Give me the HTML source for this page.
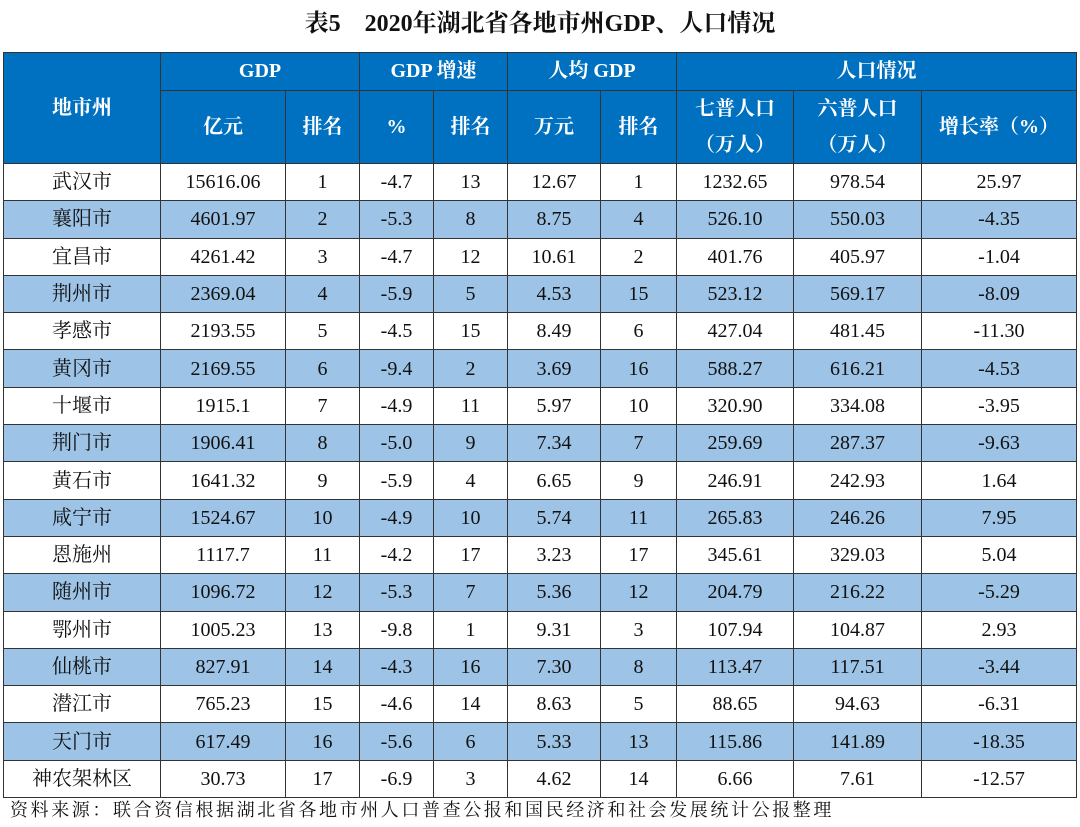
<!DOCTYPE html>
<html><head><meta charset="utf-8"><style>
html,body{margin:0;padding:0;background:#fff;width:1080px;height:827px;overflow:hidden}
.t{position:absolute;left:0;top:3px;width:1080px;text-align:center;font:bold 24px "Liberation Serif","Noto Serif CJK SC",serif;color:#111}
table{position:absolute;left:3px;top:52px;border-collapse:collapse;table-layout:fixed;font-family:"Liberation Serif","Noto Serif CJK SC",serif;font-size:20px;color:#111}
td{border:1.5px solid #333;text-align:center;padding:0;height:36.3px;line-height:20px}
.h td{background:#0070c0;color:#fff;font-weight:bold;border-color:#333}
tr.a td{background:#9dc3e6}
.f{position:absolute;left:10px;top:796px;font:18px "Noto Serif CJK SC",serif;color:#111;letter-spacing:2.6px;white-space:nowrap}
</style></head><body>
<div class="t">表5　2020年湖北省各地市州GDP、人口情况</div>
<table>
<colgroup><col style="width:157px"><col style="width:125px"><col style="width:74px"><col style="width:74px"><col style="width:74px"><col style="width:93px"><col style="width:76px"><col style="width:117px"><col style="width:128px"><col style="width:155px"></colgroup>
<tr class="h"><td rowspan="2" style="height:110px">地市州</td><td colspan="2" style="height:36px">GDP</td><td colspan="2">GDP 增速</td><td colspan="2">人均 GDP</td><td colspan="3">人口情况</td></tr>
<tr class="h"><td style="height:72px">亿元</td><td>排名</td><td>%</td><td>排名</td><td>万元</td><td>排名</td><td style="line-height:36px">七普人口<br>（万人）</td><td style="line-height:36px">六普人口<br>（万人）</td><td>增长率（%）</td></tr>
<tr><td>武汉市</td><td>15616.06</td><td>1</td><td>-4.7</td><td>13</td><td>12.67</td><td>1</td><td>1232.65</td><td>978.54</td><td>25.97</td></tr>
<tr class="a"><td>襄阳市</td><td>4601.97</td><td>2</td><td>-5.3</td><td>8</td><td>8.75</td><td>4</td><td>526.10</td><td>550.03</td><td>-4.35</td></tr>
<tr><td>宜昌市</td><td>4261.42</td><td>3</td><td>-4.7</td><td>12</td><td>10.61</td><td>2</td><td>401.76</td><td>405.97</td><td>-1.04</td></tr>
<tr class="a"><td>荆州市</td><td>2369.04</td><td>4</td><td>-5.9</td><td>5</td><td>4.53</td><td>15</td><td>523.12</td><td>569.17</td><td>-8.09</td></tr>
<tr><td>孝感市</td><td>2193.55</td><td>5</td><td>-4.5</td><td>15</td><td>8.49</td><td>6</td><td>427.04</td><td>481.45</td><td>-11.30</td></tr>
<tr class="a"><td>黄冈市</td><td>2169.55</td><td>6</td><td>-9.4</td><td>2</td><td>3.69</td><td>16</td><td>588.27</td><td>616.21</td><td>-4.53</td></tr>
<tr><td>十堰市</td><td>1915.1</td><td>7</td><td>-4.9</td><td>11</td><td>5.97</td><td>10</td><td>320.90</td><td>334.08</td><td>-3.95</td></tr>
<tr class="a"><td>荆门市</td><td>1906.41</td><td>8</td><td>-5.0</td><td>9</td><td>7.34</td><td>7</td><td>259.69</td><td>287.37</td><td>-9.63</td></tr>
<tr><td>黄石市</td><td>1641.32</td><td>9</td><td>-5.9</td><td>4</td><td>6.65</td><td>9</td><td>246.91</td><td>242.93</td><td>1.64</td></tr>
<tr class="a"><td>咸宁市</td><td>1524.67</td><td>10</td><td>-4.9</td><td>10</td><td>5.74</td><td>11</td><td>265.83</td><td>246.26</td><td>7.95</td></tr>
<tr><td>恩施州</td><td>1117.7</td><td>11</td><td>-4.2</td><td>17</td><td>3.23</td><td>17</td><td>345.61</td><td>329.03</td><td>5.04</td></tr>
<tr class="a"><td>随州市</td><td>1096.72</td><td>12</td><td>-5.3</td><td>7</td><td>5.36</td><td>12</td><td>204.79</td><td>216.22</td><td>-5.29</td></tr>
<tr><td>鄂州市</td><td>1005.23</td><td>13</td><td>-9.8</td><td>1</td><td>9.31</td><td>3</td><td>107.94</td><td>104.87</td><td>2.93</td></tr>
<tr class="a"><td>仙桃市</td><td>827.91</td><td>14</td><td>-4.3</td><td>16</td><td>7.30</td><td>8</td><td>113.47</td><td>117.51</td><td>-3.44</td></tr>
<tr><td>潜江市</td><td>765.23</td><td>15</td><td>-4.6</td><td>14</td><td>8.63</td><td>5</td><td>88.65</td><td>94.63</td><td>-6.31</td></tr>
<tr class="a"><td>天门市</td><td>617.49</td><td>16</td><td>-5.6</td><td>6</td><td>5.33</td><td>13</td><td>115.86</td><td>141.89</td><td>-18.35</td></tr>
<tr><td>神农架林区</td><td>30.73</td><td>17</td><td>-6.9</td><td>3</td><td>4.62</td><td>14</td><td>6.66</td><td>7.61</td><td>-12.57</td></tr>
</table>
<div class="f">资料来源：联合资信根据湖北省各地市州人口普查公报和国民经济和社会发展统计公报整理</div>
</body></html>
